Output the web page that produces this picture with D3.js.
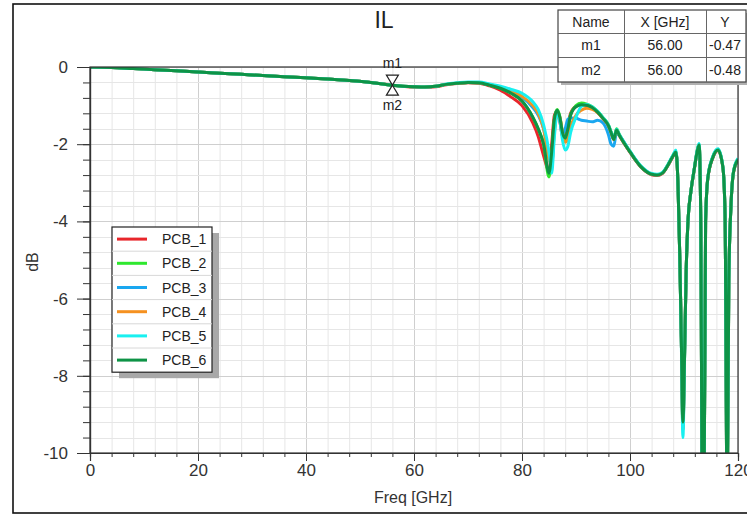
<!DOCTYPE html>
<html><head><meta charset="utf-8">
<script src="https://cdn.jsdelivr.net/npm/d3@7"></script>
<style>
body{margin:0;background:#fff;}
svg{display:block;font-family:"Liberation Sans",Arial,sans-serif;}
</style></head>
<body>
<svg id="chart" width="747" height="514"></svg>
<script>
const freq = [0,4,8,12,16,20,24,28,32,36,40,44,48,52,56,60,62,64,66,68,70,72,74,76,78,80,82,83,84,85,85.5,86,86.5,87,87.5,88,88.5,89,90,91,92,93,94,95,96,96.5,97,97.5,98,100,102,104,105,106,107,108,108.5,108.9,109.2,109.5,109.8,110.1,110.4,110.7,111.3,111.9,112.5,112.8,113.1,113.4,113.7,114.0,114.4,115.3,116.3,117.2,117.6,118.0,118.3,118.7,119.2,120];

const pcb1 = [0,-0.01,-0.04,-0.07,-0.10,-0.13,-0.16,-0.19,-0.22,-0.25,
-0.28,-0.31,-0.35,-0.40,-0.47,-0.52,-0.53,-0.51,-0.46,-0.43,
-0.41,-0.42,-0.49,-0.60,-0.78,-1.00,-1.45,-1.80,-2.30,-2.70,
-2.00,-1.25,-1.15,-1.40,-1.80,-1.80,-1.52,-1.20,-1.02,-0.98,
-1.00,-1.06,-1.18,-1.34,-1.53,-1.71,-1.88,-1.64,-1.77,-2.21,
-2.59,-2.79,-2.81,-2.76,-2.56,-2.31,-2.21,-3.10,-4.80,-7.00,
-9.30,-7.50,-5.30,-4.10,-3.20,-2.65,-2.16,-2.03,-3.90,-11.5,
-11.5,-4.00,-2.90,-2.37,-2.16,-2.60,-3.80,-11.5,-5.50,-3.60,
-2.71,-2.41];

const pcb2 = [0,-0.01,-0.04,-0.07,-0.10,-0.13,-0.16,-0.19,-0.22,-0.25,
-0.28,-0.31,-0.35,-0.40,-0.47,-0.51,-0.52,-0.50,-0.45,-0.42,
-0.40,-0.41,-0.47,-0.55,-0.68,-0.88,-1.30,-1.60,-2.00,-2.85,
-2.25,-1.35,-1.10,-1.28,-1.70,-1.86,-1.60,-1.23,-1.00,-0.93,
-0.96,-1.03,-1.15,-1.31,-1.50,-1.68,-1.86,-1.60,-1.74,-2.19,
-2.57,-2.77,-2.79,-2.74,-2.54,-2.28,-2.17,-3.10,-4.80,-7.00,
-9.30,-7.50,-5.30,-4.10,-3.20,-2.65,-2.12,-2.00,-3.90,-11.5,
-11.5,-4.00,-2.88,-2.34,-2.13,-2.58,-3.80,-11.5,-5.50,-3.60,
-2.68,-2.38];

const pcb3 = [0,-0.01,-0.04,-0.07,-0.10,-0.13,-0.16,-0.19,-0.22,-0.25,
-0.28,-0.31,-0.35,-0.40,-0.47,-0.51,-0.52,-0.50,-0.45,-0.42,
-0.40,-0.41,-0.46,-0.53,-0.63,-0.78,-1.05,-1.25,-1.60,-2.30,
-2.55,-1.60,-1.20,-1.40,-1.75,-1.60,-1.35,-1.32,-1.33,-1.38,
-1.40,-1.42,-1.38,-1.45,-1.75,-2.00,-2.05,-1.70,-1.77,-2.20,
-2.58,-2.78,-2.80,-2.75,-2.55,-2.30,-2.20,-3.10,-4.80,-7.00,
-9.40,-7.50,-5.30,-4.10,-3.20,-2.65,-2.15,-2.02,-3.90,-11.5,
-11.5,-4.00,-2.90,-2.36,-2.15,-2.60,-3.80,-11.5,-5.50,-3.60,
-2.70,-2.40];

const pcb4 = [0,-0.01,-0.04,-0.07,-0.10,-0.13,-0.16,-0.19,-0.22,-0.25,
-0.28,-0.31,-0.35,-0.40,-0.47,-0.51,-0.52,-0.50,-0.45,-0.42,
-0.40,-0.41,-0.45,-0.52,-0.62,-0.76,-1.00,-1.20,-1.60,-2.40,
-2.50,-1.70,-1.25,-1.30,-1.70,-1.95,-1.85,-1.55,-1.25,-1.12,
-1.07,-1.10,-1.18,-1.33,-1.52,-1.70,-1.88,-1.63,-1.76,-2.20,
-2.58,-2.78,-2.80,-2.75,-2.55,-2.30,-2.20,-3.10,-4.80,-7.00,
-9.40,-7.50,-5.30,-4.10,-3.20,-2.65,-2.15,-2.02,-3.90,-11.5,
-11.5,-4.00,-2.90,-2.36,-2.15,-2.60,-3.80,-11.5,-5.50,-3.60,
-2.70,-2.40];

const pcb5 = [0,-0.01,-0.04,-0.07,-0.10,-0.13,-0.16,-0.19,-0.22,-0.25,
-0.28,-0.31,-0.35,-0.40,-0.47,-0.51,-0.52,-0.50,-0.44,-0.41,
-0.39,-0.39,-0.44,-0.50,-0.58,-0.68,-0.90,-1.10,-1.50,-2.20,
-2.75,-1.80,-1.20,-1.35,-1.90,-2.15,-2.05,-1.70,-1.30,-1.02,
-0.97,-1.03,-1.15,-1.31,-1.50,-1.68,-1.86,-1.61,-1.74,-2.18,
-2.56,-2.76,-2.78,-2.73,-2.53,-2.27,-2.15,-3.10,-4.80,-7.10,
-9.60,-7.60,-5.30,-4.10,-3.20,-2.63,-2.12,-1.98,-3.90,-11.5,
-11.5,-4.00,-2.88,-2.33,-2.12,-2.58,-3.80,-11.5,-5.50,-3.60,
-2.68,-2.37];

const pcb6 = [0,-0.01,-0.04,-0.07,-0.10,-0.13,-0.16,-0.19,-0.22,-0.25,
-0.28,-0.31,-0.35,-0.40,-0.47,-0.51,-0.52,-0.50,-0.45,-0.42,
-0.40,-0.41,-0.47,-0.55,-0.68,-0.88,-1.30,-1.60,-2.00,-2.75,
-2.20,-1.35,-1.12,-1.30,-1.70,-1.84,-1.60,-1.25,-1.03,-0.98,
-0.99,-1.05,-1.17,-1.33,-1.52,-1.70,-1.88,-1.63,-1.76,-2.20,
-2.58,-2.78,-2.80,-2.75,-2.55,-2.30,-2.20,-3.10,-4.80,-7.00,
-9.20,-7.50,-5.30,-4.10,-3.20,-2.65,-2.15,-2.02,-3.90,-11.5,
-11.5,-4.00,-2.90,-2.36,-2.15,-2.60,-3.80,-11.5,-5.50,-3.60,
-2.70,-2.40];

const seriesNames = ["PCB_1","PCB_2","PCB_3","PCB_4","PCB_5","PCB_6"];
const seriesValues = [pcb1,pcb2,pcb3,pcb4,pcb5,pcb6];
const seriesColors = ["#e8262b","#2ee82e","#1aa7f0","#f59120","#19f0f0","#0e9346"];

const xMajorTicks = [0,20,40,60,80,100,120];
const yMajorTicks = [0,-2,-4,-6,-8,-10];

const markerNames = ["m1","m2"];
const markerX = [56.00,56.00];
const markerY = [-0.47,-0.48];

const tableHeaders = ["Name","X [GHz]","Y"];

const svg = d3.select("#chart");
const L=90,R=738,T=67,B=453;
const x = d3.scaleLinear().domain([0,120]).range([L,R]);
const y = d3.scaleLinear().domain([-10,0]).range([B,T]);

// outer frame
svg.append("rect").attr("x",13).attr("y",4).attr("width",800).attr("height",509)
  .attr("fill","none").attr("stroke","#111").attr("stroke-width",1.6);

// grid
const xMinor = d3.range(0,121,4);
const yMinor = d3.range(0,26).map(i=>-i*0.4);
const g = svg.append("g");
g.selectAll(".vx").data(xMinor).join("line")
  .attr("x1",d=>x(d)+0.5).attr("x2",d=>x(d)+0.5).attr("y1",T).attr("y2",B)
  .attr("stroke",d=>d%20===0?"#cfcfcf":"#e6e6e6").attr("stroke-width",1);
g.selectAll(".hy").data(yMinor).join("line")
  .attr("y1",d=>Math.round(y(d))+0.5).attr("y2",d=>Math.round(y(d))+0.5).attr("x1",L).attr("x2",R)
  .attr("stroke",d=>Math.abs(d%2)<1e-6?"#cfcfcf":"#e6e6e6").attr("stroke-width",1);

// lines
svg.append("clipPath").attr("id","clip").append("rect")
  .attr("x",L).attr("y",T).attr("width",R-L).attr("height",B-T);
const line = d3.line().x((d,i)=>x(freq[i])).y(d=>y(d)).curve(d3.curveMonotoneX);
const lg = svg.append("g").attr("clip-path","url(#clip)");
seriesValues.forEach((vals,k)=>{
  lg.append("path").datum(vals).attr("d",line)
    .attr("fill","none").attr("stroke",seriesColors[k]).attr("stroke-width",3)
    .attr("stroke-linejoin","round");
});

// plot frame
svg.append("rect").attr("x",L).attr("y",T).attr("width",R-L).attr("height",B-T)
  .attr("fill","none").attr("stroke","#333").attr("stroke-width",1.2);

// axes
const axFont = 17;
const fmt = d => String(d);
svg.append("g").attr("transform",`translate(0,${B})`)
  .call(d3.axisBottom(x).tickValues(xMajorTicks).tickSize(8).tickPadding(3).tickFormat(fmt));
svg.append("g").attr("transform",`translate(0,${B})`)
  .call(d3.axisBottom(x).tickValues(xMinor).tickSize(4).tickFormat(""));
svg.append("g").attr("transform",`translate(${L},0)`)
  .call(d3.axisLeft(y).tickValues(yMajorTicks).tickSize(13).tickPadding(9).tickFormat(fmt));
svg.append("g").attr("transform",`translate(${L},0)`)
  .call(d3.axisLeft(y).tickValues(yMinor).tickSize(7).tickFormat(""));
svg.selectAll(".domain").attr("stroke","#333").attr("stroke-width",1.2);
svg.selectAll(".tick line").attr("stroke","#333");
svg.selectAll(".tick text").attr("font-size",axFont).attr("font-family","Liberation Sans, Arial, sans-serif").attr("fill","#333");

// axis titles
svg.append("text").attr("x",413).attr("y",503).attr("text-anchor","middle")
  .attr("font-size",16).attr("fill","#333").text("Freq [GHz]");
svg.append("text").attr("transform","translate(38,262) rotate(-90)").attr("text-anchor","middle")
  .attr("font-size",16).attr("fill","#333").text("dB");
svg.append("text").attr("x",384).attr("y",28).attr("text-anchor","middle")
  .attr("font-size",23).attr("fill","#222").text("IL");

// markers
const mx = x(markerX[0]), my = y(markerY[0]);
svg.append("path")
  .attr("d",`M${mx-6},${my-10}L${mx+6},${my-10}L${mx},${my}Z M${mx},${my}L${mx-6},${my+10}L${mx+6},${my+10}Z`)
  .attr("fill","#fff").attr("stroke","#222").attr("stroke-width",1.2);
svg.append("text").attr("x",mx).attr("y",my-17).attr("text-anchor","middle").attr("font-size",14).attr("fill","#222").text(markerNames[0]);
svg.append("text").attr("x",mx).attr("y",my+25).attr("text-anchor","middle").attr("font-size",14).attr("fill","#222").text(markerNames[1]);

// marker table
const tx=558, ty=10, colX=[558,624,706,746], rowY=[10,33,57,82];
svg.append("rect").attr("x",tx+3).attr("y",ty+3).attr("width",188).attr("height",72).attr("fill","#b0b0b0");
svg.append("rect").attr("x",tx).attr("y",ty).attr("width",188).attr("height",72)
  .attr("fill","#fff").attr("stroke","#444").attr("stroke-width",1.2);
[1,2].forEach(i=>svg.append("line").attr("x1",colX[i]+0.5).attr("x2",colX[i]+0.5).attr("y1",ty).attr("y2",82).attr("stroke","#666"));
[1,2].forEach(i=>svg.append("line").attr("y1",rowY[i]+0.5).attr("y2",rowY[i]+0.5).attr("x1",tx).attr("x2",746).attr("stroke","#666"));
const cellRows = [tableHeaders].concat(markerNames.map((n,i)=>[n,markerX[i].toFixed(2),markerY[i].toFixed(2)]));
cellRows.forEach((row,r)=>{
  row.forEach((txt,c)=>{
    svg.append("text").attr("x",(colX[c]+colX[c+1])/2 - (c===2?1:0)).attr("y",(rowY[r]+rowY[r+1])/2)
      .attr("dy","0.36em").attr("text-anchor","middle").attr("font-size",14).attr("fill","#222").text(txt);
  });
});

// legend
const lx=112, ly=227, lw=100, rh=24.2, lh=rh*6;
svg.append("rect").attr("x",lx+7).attr("y",ly+6).attr("width",lw).attr("height",lh).attr("fill","#a8a8a8");
svg.append("rect").attr("x",lx).attr("y",ly).attr("width",lw).attr("height",lh)
  .attr("fill","#fff").attr("stroke","#222").attr("stroke-width",1.2);
seriesNames.forEach((n,i)=>{
  const cy = ly + rh*i + rh/2;
  if(i>0) svg.append("line").attr("x1",lx).attr("x2",lx+lw).attr("y1",ly+rh*i).attr("y2",ly+rh*i).attr("stroke","#d8d8d8");
  svg.append("line").attr("x1",lx+5).attr("x2",lx+35).attr("y1",cy).attr("y2",cy)
    .attr("stroke",seriesColors[i]).attr("stroke-width",3);
  svg.append("text").attr("x",lx+50).attr("y",cy).attr("dy","0.36em").attr("font-size",14).attr("fill","#222").text(n);
});
</script>
</body></html>
